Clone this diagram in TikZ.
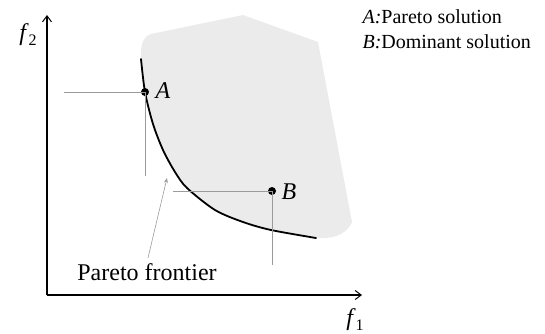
\documentclass[tikz,border=0pt]{standalone}
\usepackage{fontspec}
\setmainfont{Liberation Serif}
\usetikzlibrary{arrows.meta}

\definecolor{regiongray}{RGB}{235,235,235}
\definecolor{guidegray}{RGB}{155,155,155}
\newcommand{\labfont}{\fontsize{24}{28}\selectfont}
\newcommand{\keyfont}{\fontsize{20}{24}\selectfont}

\begin{document}
\begin{tikzpicture}[x=1pt,y=-1pt,
  axis/.style={line width=1.2pt,-{Straight Barb[length=6pt,width=9pt,line width=1pt]}},
  guide/.style={guidegray,line width=0.8pt},
  frontier/.style={line width=1.8pt,line cap=round},
  dot/.style={circle,fill=black,inner sep=0pt,minimum size=8pt}]
\useasboundingbox (0,0) rectangle (545,333);

% feasible region
\fill[regiongray] (151,34) -- (243,15) -- (318,42) -- (352,222)
  .. controls (346,236) and (331,239) .. (316,238)
  -- plot[smooth] coordinates {(316,238) (271,230) (243,222) (215,210) (187,188) (175,172) (163,150) (153,124) (145,92) (141,59)}
  .. controls (140,45) and (143,37) .. (151,34) -- cycle;

% axes
\coordinate (O) at (47,295);
\coordinate (ytop) at (47,15);
\coordinate (xend) at (362,295);
\draw[axis] (O) -- (ytop);
\draw[axis] (O) -- (xend);
\node (f2) at (28,35) {\labfont\textit{f}\raisebox{-.45ex}{\fontsize{16}{18}\selectfont 2}};
\node (f1) at (355,320) {\labfont\textit{f}\raisebox{-.45ex}{\fontsize{16}{18}\selectfont 1}};

% frontier
\draw[frontier] plot[smooth] coordinates {(141,59) (145,92) (153,124) (163,150) (175,172) (187,188) (215,210) (243,222) (271,230) (316,238)};

% solutions
\node[dot] (A) at (145,92) {};
\node[dot] (B) at (272,191) {};
\node[anchor=west] (Alab) at (152,91) {\labfont\textit{A}};
\node[anchor=west] (Blab) at (278,192) {\labfont\textit{B}};
\coordinate (Ah) at (64,92);
\coordinate (Av) at (145,176);
\coordinate (Bh) at (173,191);
\coordinate (Bv) at (272,265);
\draw[guide] (Ah) -- (A.center);
\draw[guide] (A.center) -- (Av);
\draw[guide] (Bh) -- (B.center);
\draw[guide] (B.center) -- (Bv);

% label of the frontier
\node (pf) at (147,272) {\labfont Pareto frontier};
\coordinate (pftip) at (167,178);
\draw[guide,line width=0.6pt,-{Stealth[length=5pt,width=4pt]}] (pf.north) ++(1,-2) coordinate (pfstart) -- (pftip);

% key
\node[anchor=west] (keyA) at (359,17) {\keyfont\textit{A:}Pareto solution};
\node[anchor=west] (keyB) at (359,42) {\keyfont\textit{B:}Dominant solution};
\end{tikzpicture}
\end{document}
